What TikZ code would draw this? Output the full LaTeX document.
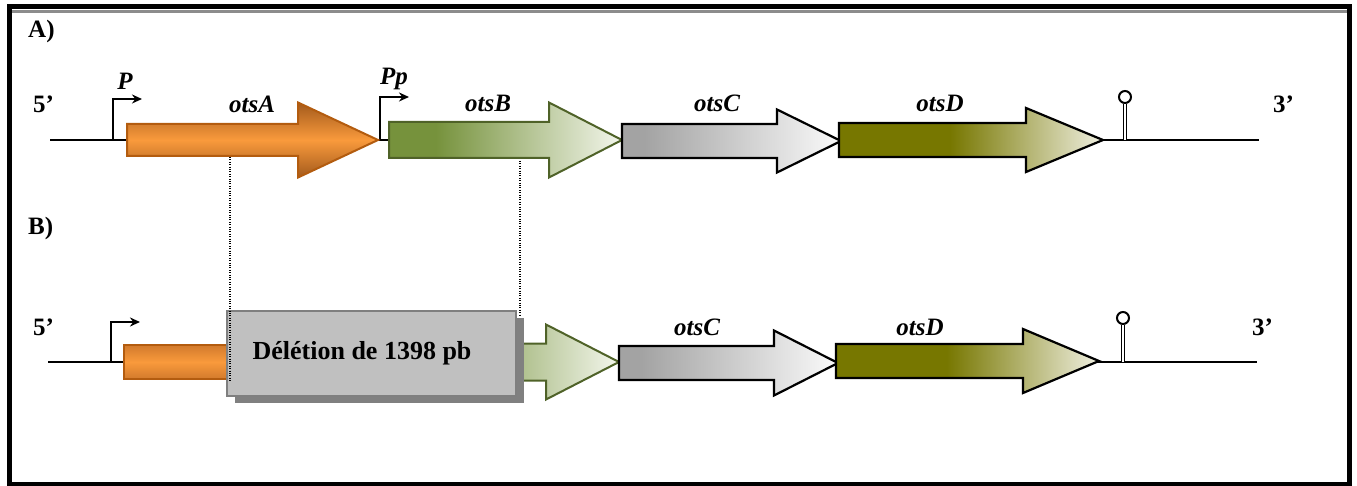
\documentclass[tikz,border=0pt]{standalone}
\usepackage{fontspec}
\setmainfont{Liberation Serif}
\usetikzlibrary{arrows.meta}
\definecolor{oTop}{HTML}{A35A1C}
\definecolor{oStubTop}{HTML}{D27A2C}
\definecolor{oMid}{HTML}{F99A3C}
\definecolor{oBorder}{HTML}{B35C0F}
\definecolor{gDark}{HTML}{76923C}
\definecolor{gLight}{HTML}{F3F6EC}
\definecolor{gBorder}{HTML}{4F6228}
\definecolor{grA}{HTML}{A3A3A3}
\definecolor{grB}{HTML}{FAFAFA}
\definecolor{olA}{HTML}{777700}
\definecolor{olB}{HTML}{EFEFE0}
\definecolor{boxfill}{HTML}{C0C0C0}
\definecolor{boxline}{HTML}{7F7F7F}
\definecolor{shadowgray}{HTML}{808080}
\definecolor{framegray}{HTML}{8C8C8C}
\pgfdeclarehorizontalshading{greenfade}{100bp}{color(0bp)=(gDark); color(25bp)=(gDark); color(35bp)=(gDark); color(75bp)=(gLight); color(100bp)=(gLight)}
\pgfdeclarehorizontalshading{grayfade}{100bp}{color(0bp)=(grA); color(25bp)=(grA); color(30bp)=(grA); color(75bp)=(grB); color(100bp)=(grB)}
\pgfdeclarehorizontalshading{olivefade}{100bp}{color(0bp)=(olA); color(25bp)=(olA); color(46bp)=(olA); color(75bp)=(olB); color(100bp)=(olB)}
\newcommand{\genearrow}[7]{\draw[#1] (#2,#5-#6) -- (#3,#5-#6) -- (#3,#5-#7) -- (#4,#5) -- (#3,#5+#7) -- (#3,#5+#6) -- (#2,#5+#6) -- cycle;}
\begin{document}
\begin{tikzpicture}[x=1pt,y=-1pt,
  dna/.style={line width=2.2pt,black},
  promo/.style={line width=2pt,-{Stealth[length=10pt,width=9pt]}},
  orangegene/.style={line width=2pt,draw=oBorder,top color=oTop,bottom color=oTop,middle color=oMid},
  orangestub/.style={line width=2pt,draw=oBorder,top color=oStubTop,bottom color=oStubTop,middle color=oMid},
  greengene/.style={line width=2pt,draw=gBorder,shading=greenfade},
  graygene/.style={line width=2.2pt,draw=black,shading=grayfade},
  olivegene/.style={line width=2.2pt,draw=black,shading=olivefade},
  genelab/.style={inner sep=0pt,anchor=base,font=\fontsize{25}{30}\selectfont\bfseries\itshape},
  sidelab/.style={inner sep=0pt,anchor=base west,font=\fontsize{25}{30}\selectfont\bfseries},
  stemline/.style={line width=1.5pt,double=white,double distance=1.4pt},
  loopc/.style={line width=2pt,draw=black,fill=white,circle,minimum size=12pt,inner sep=0pt},
  guide/.style={line width=1.1pt,dash pattern=on 1pt off 1.4pt},
  delbox/.style={draw=boxline,line width=2pt,fill=boxfill,inner sep=0pt,minimum width=289pt,minimum height=85pt},
  shadowbox/.style={fill=shadowgray,inner sep=0pt,minimum width=289pt,minimum height=85pt}]
\useasboundingbox (0,0) rectangle (1357,486);
% frame
\draw[line width=4.5pt] (9.5,6.5) rectangle (1349.5,484);
\draw[framegray,line width=3pt] (11.75,11.5) -- (1347.25,11.5);
% section labels
\node[sidelab] (labA) at (28,38) {A)};
\node[sidelab] (labB) at (28,235) {B)};
% ---------- Row A ----------
\coordinate (a5) at (50,140);
\coordinate (a3) at (1259,140);
\draw[dna] (a5) -- (a3);
\node[sidelab] (fiveA) at (33,113) {5’};
\node[sidelab] (threeA) at (1273,113) {3’};
\coordinate (pA) at (113,140);
\draw[promo] (pA) -- (113,99) -- (142,99);
\node[genelab] (labP) at (125,90) {P};
\coordinate (ppA) at (380,140);
\draw[promo] (ppA) -- (380,97) -- (409,97);
\node[genelab] (labPp) at (394,85) {Pp};
\genearrow{orangegene}{127}{298}{378}{140}{16}{37.5}
\genearrow{greengene}{389}{549}{622}{140}{18}{37.5}
\genearrow{graygene}{622}{777}{841}{141}{17}{31.5}
\genearrow{olivegene}{839}{1026}{1103}{140}{17}{32}
\node[genelab] (otsA) at (252,113) {otsA};
\node[genelab] (otsB) at (488,112) {otsB};
\node[genelab] (otsCa) at (717,112) {otsC};
\node[genelab] (otsDa) at (940,112) {otsD};
\coordinate (tA) at (1125,140);
\node[loopc] (loopA) at (1125,97) {};
\draw[stemline] (tA) -- (loopA.south);
% ---------- Row B ----------
\coordinate (b5) at (48,362);
\coordinate (b3) at (1257,362);
\draw[dna] (b5) -- (b3);
\node[sidelab] (fiveB) at (33,335) {5’};
\node[sidelab] (threeB) at (1252,335) {3’};
\coordinate (pB) at (111,362);
\draw[promo] (pB) -- (111,322) -- (140,322);
\draw[orangestub] (124,345) rectangle (236,379);
\genearrow{greengene}{389}{546}{619}{362}{18.5}{37.5}
\genearrow{graygene}{619}{774}{838}{363}{17}{32.5}
\genearrow{olivegene}{836}{1023}{1099}{361}{17}{32}
\node[genelab] (otsCb) at (697,335) {otsC};
\node[genelab] (otsDb) at (920,335) {otsD};
\coordinate (tB) at (1123,362);
\node[loopc] (loopB) at (1123,318) {};
\draw[stemline] (tB) -- (loopB.south);
% deletion box
\node[shadowbox] (delshadow) at (379.5,360.5) {};
\node[delbox] (del) at (371.5,353.5) {};
\node[inner sep=0pt,anchor=base,font=\fontsize{26}{30}\selectfont\bfseries] (deltext) at (362,359) {Délétion de 1398 pb};
% guide lines
\coordinate (gA1) at (230,157);
\coordinate (gA2) at (230,381);
\coordinate (gB1) at (520,161);
\coordinate (gB2) at (520,315);
\draw[guide] (gA1) -- (gA2);
\draw[guide] (gB1) -- (gB2);
\end{tikzpicture}
\end{document}
